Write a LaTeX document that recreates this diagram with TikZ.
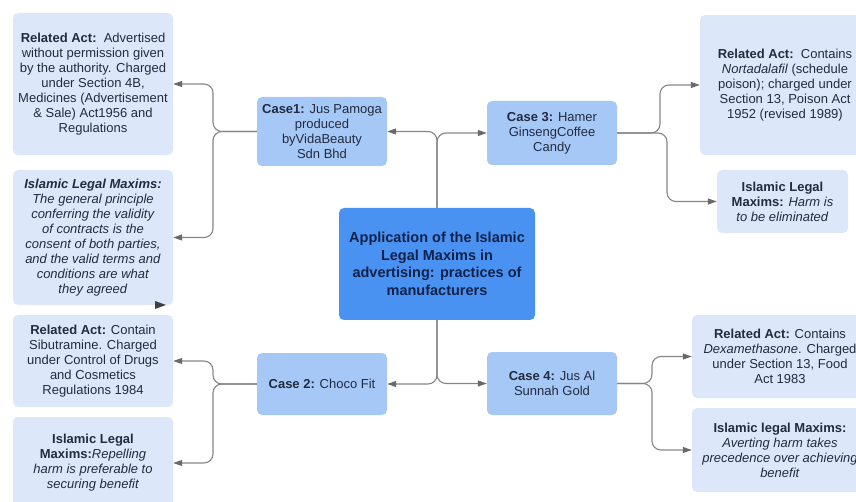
\documentclass[tikz,border=0pt]{standalone}
\usepackage{fontspec}
\setmainfont{Liberation Sans}
\usetikzlibrary{arrows.meta}
\definecolor{pale}{HTML}{DCE8FA}
\definecolor{casec}{HTML}{A6C8F6}
\definecolor{ctrc}{HTML}{4A92F2}
\definecolor{txt}{HTML}{222B40}
\definecolor{ctrtxt}{HTML}{10214A}
\definecolor{linec}{HTML}{858585}
\definecolor{tipc}{HTML}{6A6A6A}
\tikzset{
  box/.style={draw=none, fill=pale, rounded corners=5pt, align=center, inner sep=2pt,
    font=\fontsize{13}{15}\selectfont, text=txt},
  casebox/.style={box, fill=casec},
  ctrbox/.style={box, fill=ctrc, font=\fontsize{14.5}{17.5}\selectfont\bfseries, text=ctrtxt},
  conn/.style={draw=linec, line width=1.1pt, rounded corners=9pt,
    -{Triangle[length=9pt,width=6pt,color=tipc]}},
}
\begin{document}
\begin{tikzpicture}[x=1pt,y=-1pt]
\useasboundingbox (0,0) rectangle (856,502);
% left column
\node[box, minimum width=160pt, minimum height=142pt] (l1) at (93,84)
  {\textbf{Related Act:}\ \ Advertised\\without permission given\\by the authority. Charged\\under Section 4B,\\Medicines (Advertisement\\\& Sale) Act1956 and\\Regulations};
\node[box, minimum width=160pt, minimum height=135pt] (l2) at (93,237.5)
  {\textbf{\textit{Islamic Legal Maxims:}}\\\textit{The general principle}\\\textit{conferring the validity}\\\textit{of contracts is the}\\\textit{consent of both parties,}\\\textit{and the valid terms and}\\\textit{conditions are what}\\\textit{they agreed}};
\node[box, minimum width=160pt, minimum height=92pt] (l3) at (93,361)
  {\textbf{Related Act:} Contain\\Sibutramine. Charged\\under Control of Drugs\\and Cosmetics\\Regulations 1984};
\node[box, minimum width=160pt, minimum height=92pt] (l4) at (93,463)
  {\textbf{Islamic Legal}\\\textbf{Maxims:}\textit{Repelling}\\\textit{harm is preferable to}\\\textit{securing benefit}};
% cases
\node[casebox, minimum width=130pt, minimum height=69pt] (c1) at (322,131.5)
  {\textbf{Case1:} Jus Pamoga\\produced\\byVidaBeauty\\Sdn Bhd};
\node[casebox, minimum width=130pt, minimum height=62pt] (c2) at (322,384)
  {\textbf{Case 2:} Choco Fit};
\node[casebox, minimum width=130pt, minimum height=64pt] (c3) at (552,133)
  {\textbf{Case 3:} Hamer\\GinsengCoffee\\Candy};
\node[casebox, minimum width=130pt, minimum height=63pt] (c4) at (552,383.5)
  {\textbf{Case 4:} Jus Al\\Sunnah Gold};
% centre
\node[ctrbox, minimum width=196pt, minimum height=112pt] (ctr) at (437,264)
  {Application of the Islamic\\Legal Maxims in\\advertising: practices of\\manufacturers};
% right column
\node[box, minimum width=170pt, minimum height=140pt] (r1) at (785,85)
  {\textbf{Related Act:}\ \ Contains\\\textit{Nortadalafil} (schedule\\poison); charged under\\Section 13, Poison Act\\1952 (revised 1989)};
\node[box, minimum width=131pt, minimum height=63pt] (r2) at (782.5,201.5)
  {\textbf{Islamic Legal}\\\textbf{Maxims:} \textit{Harm is}\\\textit{to be eliminated}};
\node[box, minimum width=176pt, minimum height=83pt] (r3) at (780,356.5)
  {\textbf{Related Act:} Contains\\\textit{Dexamethasone}. Charged\\under Section 13, Food\\Act 1983};
\node[box, minimum width=176pt, minimum height=84pt] (r4) at (780,450)
  {\textbf{Islamic legal Maxims:}\\\textit{Averting harm takes}\\\textit{precedence over achieving}\\\textit{benefit}};
% junction coordinates
\coordinate (jl) at (213,0);
\coordinate (jr1) at (660,0);
\coordinate (jr2) at (667,0);
\coordinate (jr3) at (652,0);
% trunk
\draw[conn] (ctr.north) |- (c1.east);
\draw[conn] (ctr.north) |- (c3.west);
\draw[conn] (ctr.south) |- (c2.east);
\draw[conn] (ctr.south) |- (c4.west);
% left brackets
\draw[conn] (c1.west) -- (c1.west -| jl) |- (l1.east);
\draw[conn] (c1.west) -- (c1.west -| jl) |- (l2.east);
\draw[conn] (c2.west) -- (c2.west -| jl) |- (l3.east);
\draw[conn] (c2.west) -- (c2.west -| jl) |- (l4.east);
% right brackets
\draw[conn] (c3.east) -- (c3.east -| jr1) |- (r1.west);
\draw[conn] (c3.east) -- (c3.east -| jr2) |- (r2.west);
\draw[conn] (c4.east) -- (c4.east -| jr3) |- (r3.west);
\draw[conn] (c4.east) -- (c4.east -| jr3) |- (r4.west);
% stray arrowhead
\fill[black!75] (155,301) -- (166,305) -- (155,309) -- cycle;
\end{tikzpicture}
\end{document}
